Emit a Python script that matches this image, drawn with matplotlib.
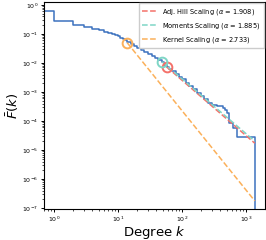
import numpy as np
import matplotlib.pyplot as plt

deg = [0.5, 1, 2, 3, 4, 5, 6, 7, 8, 9, 10, 11, 12, 13, 14, 16, 18, 20, 23,
       26, 30, 34, 38, 43, 49, 53, 58, 64, 70, 80, 90, 100, 115, 130, 150,
       175, 200, 225, 255, 295, 350, 435, 470, 500, 540, 630, 720, 1380]
ccdf = [0.62, 0.28, 0.21, 0.18, 0.15, 0.135, 0.12, 0.108, 0.098, 0.09, 0.083,
        0.075, 0.068, 0.06, 0.054, 0.045, 0.039, 0.034, 0.028, 0.024, 0.02,
        0.017, 0.0148, 0.0128, 0.011, 0.0088, 0.0073, 0.0062, 0.0052, 0.0041,
        0.0033, 0.0027, 0.0021, 0.0016, 0.00125, 0.00093, 0.00072, 0.00056,
        0.00042, 0.00036, 0.00033, 0.00028, 0.00024, 0.00019, 8.5e-5, 5.7e-5,
        2.8e-5, 1e-9]

# fitted tails: label, alpha, start (k, F), colour
fit_names = ['Adj. Hill Scaling', 'Moments Scaling', 'Kernel Scaling']
fit_alpha = [1.908, 1.885, 2.733]
fit_kmin = [58, 49, 14]
fit_fmin = [0.0073, 0.011, 0.05]
fit_colors = ['#f4716a', '#7fd6c6', '#fbb05a']
kmax = 1380

fig = plt.figure(figsize=(2.66, 2.4), dpi=100)
ax = fig.add_axes([0.165, 0.129, 0.831, 0.863])

ax.plot(deg, ccdf, drawstyle='steps-post', color='#3c72bf', lw=1.1, zorder=2)

for name, a, k0, f0, c in zip(fit_names, fit_alpha, fit_kmin, fit_fmin, fit_colors):
    ks = np.array([k0, kmax])
    ax.plot(ks, f0 * (ks / k0) ** (-a), '--', color=c, lw=1.1, zorder=3,
            label=f'{name} ($\\alpha$ = {a})')
    ax.plot([k0], [f0], 'o', ms=7, mfc='none', mec=c, mew=1.4, zorder=4)

ax.set_xscale('log')
ax.set_yscale('log')
ax.set_xlim(0.70, 1990)
ax.set_ylim(9.3e-8, 1.27)
ax.tick_params(labelsize=4.5, length=2.5, width=0.7, pad=1.5)
ax.tick_params(which='minor', length=1.5, width=0.5)
ax.set_xlabel('Degree $k$', fontsize=9.5, labelpad=0)
ax.set_ylabel('$\\bar{F}(k)$', fontsize=9.5, labelpad=1)
ax.legend(loc='upper right', fontsize=4.8, handlelength=2.2, borderpad=0.5,
          labelspacing=0.6, handletextpad=0.8, framealpha=1, fancybox=False,
          borderaxespad=0.2)

plt.savefig('out.png', dpi=100)
